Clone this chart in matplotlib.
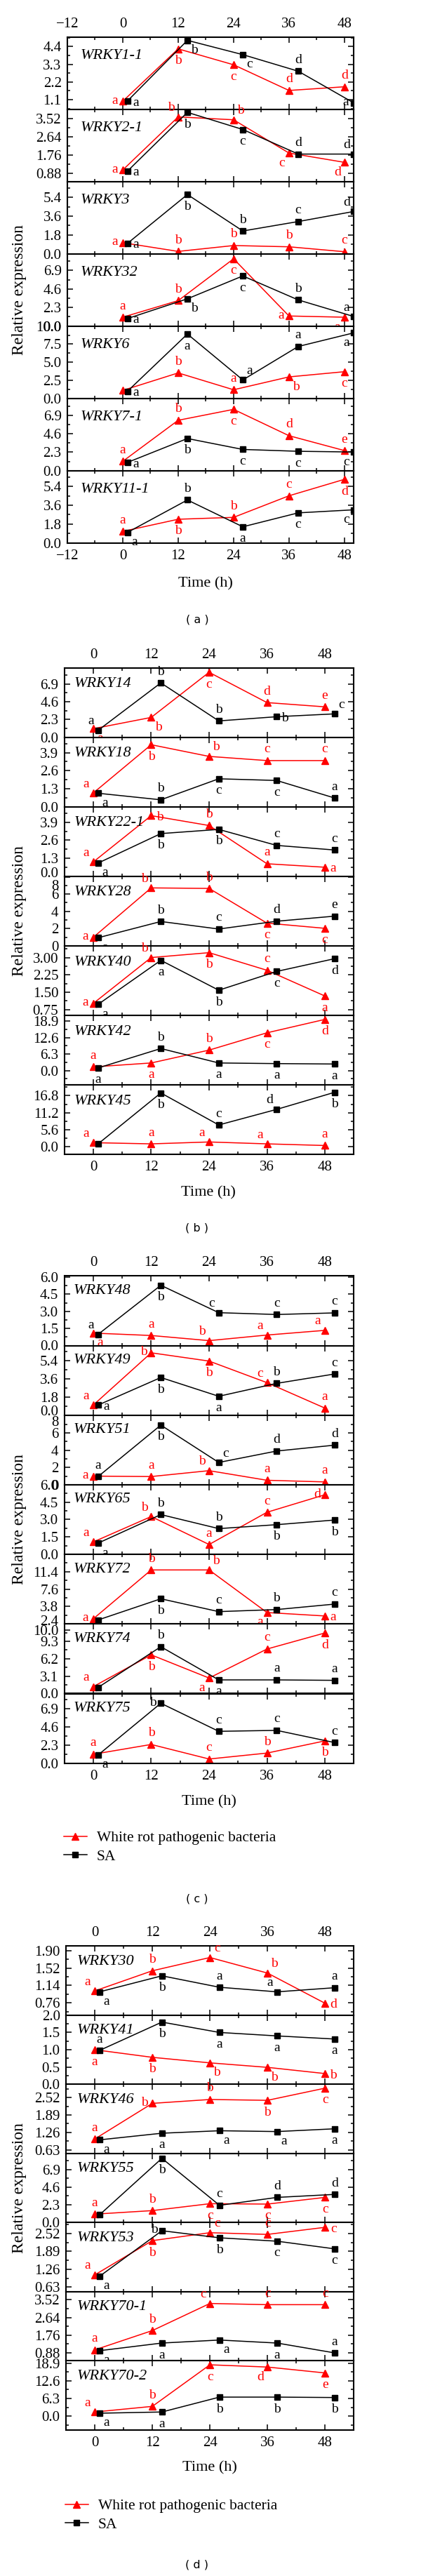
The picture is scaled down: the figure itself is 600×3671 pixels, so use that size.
import matplotlib
matplotlib.use("Agg")
import matplotlib.pyplot as plt
from matplotlib.ticker import FixedLocator, FixedFormatter, MultipleLocator
from matplotlib.transforms import ScaledTranslation

plt.rcParams['font.family'] = ['Liberation Serif', 'DejaVu Serif']

# ---------------- data ----------------
time_wr = [0, 12, 24, 36, 48]
time_sa = [1, 14, 26, 38, 50]
series_names = ["White rot pathogenic bacteria", "SA"]

# panel (a)
a_genes = ["WRKY1-1", "WRKY2-1", "WRKY3", "WRKY32", "WRKY6", "WRKY7-1", "WRKY11-1"]
a_wr = [[1.00, 4.26, 3.27, 1.67, 1.90],
        [1.04, 3.61, 3.47, 1.86, 1.41],
        [1.06, 0.23, 0.79, 0.67, 0.20],
        [1.10, 3.15, 8.33, 1.25, 1.10],
        [1.10, 3.52, 1.19, 2.97, 3.69],
        [1.16, 6.27, 7.63, 4.35, 2.50],
        [1.10, 2.26, 2.44, 4.50, 6.07]]
a_sa = [[1.01, 4.79, 3.90, 2.87, 0.90],
        [0.98, 3.83, 3.00, 1.81, 1.81],
        [0.99, 5.66, 2.18, 3.08, 4.04],
        [0.93, 3.38, 6.21, 3.24, 1.19],
        [0.97, 8.90, 2.55, 7.18, 9.06],
        [1.02, 4.00, 2.64, 2.41, 2.32],
        [1.00, 4.10, 1.54, 2.87, 3.16]]
a_wr_sig = ["abcdd", "abbcd", "abbbc", "abcaa", "ababc", "abcde", "abbcd"]
a_sa_sig = ["abcda", "abcdd", "abbcd", "abcba", "aaaaa", "abccc", "abacc"]
a_yticks = [["1.1", "2.2", "3.3", "4.4"], ["0.88", "1.76", "2.64", "3.52"],
            ["0.0", "1.8", "3.6", "5.4"], ["0.0", "2.3", "4.6", "6.9"],
            ["0.0", "2.5", "5.0", "7.5", "10.0"], ["0.0", "2.3", "4.6", "6.9"],
            ["0.0", "1.8", "3.6", "5.4"]]

# panel (b)
b_genes = ["WRKY14", "WRKY18", "WRKY22-1", "WRKY28", "WRKY40", "WRKY42", "WRKY45"]
b_wr = [[1.12, 2.58, 8.42, 4.50, 3.95],
        [1.00, 4.47, 3.63, 3.33, 3.33],
        [1.04, 4.37, 3.66, 0.91, 0.66],
        [1.00, 6.72, 6.66, 2.64, 2.04],
        [1.02, 3.00, 3.21, 2.45, 1.34],
        [1.40, 2.90, 7.80, 14.4, 19.5],
        [1.39, 1.00, 1.62, 1.00, 0.46]]
b_sa = [[0.91, 7.05, 2.13, 2.67, 3.04],
        [0.98, 0.51, 2.02, 1.90, 0.64],
        [0.96, 3.08, 3.38, 2.23, 1.90],
        [0.95, 2.83, 1.96, 2.86, 3.45],
        [0.98, 2.88, 1.59, 2.40, 2.95],
        [1.00, 8.40, 2.90, 2.66, 2.50],
        [1.00, 17.7, 7.20, 12.3, 17.9]]
b_wr_sig = ["abcde", "abbcc", "abbaa", "abbcc", "abbca", "aabcd", "aaaaa"]
b_sa_sig = ["abbbc", "abcca", "abbcc", "abcde", "aabcd", "abaaa", " bcdb"]
b_yticks = [["0.0", "2.3", "4.6", "6.9"], ["0.0", "1.3", "2.6", "3.9"],
            ["0.0", "1.3", "2.6", "3.9"], ["0", "2", "4", "6", "8"],
            ["0.75", "1.50", "2.25", "3.00"], ["0.0", "6.3", "12.6", "18.9"],
            ["0.0", "5.6", "11.2", "16.8"]]

# panel (c)
c_genes = ["WRKY48", "WRKY49", "WRKY51", "WRKY65", "WRKY72", "WRKY74", "WRKY75"]
c_wr = [[1.09, 0.88, 0.43, 0.92, 1.33],
        [1.00, 6.18, 5.36, 3.22, 0.70],
        [1.00, 0.95, 1.63, 0.52, 0.33],
        [1.07, 3.26, 0.85, 3.63, 5.14],
        [1.13, 11.8, 11.8, 2.50, 1.75],
        [1.24, 6.90, 2.77, 7.94, 10.8],
        [1.13, 2.37, 0.53, 1.28, 2.82]]
c_sa = [[0.98, 5.28, 2.88, 2.72, 2.86],
        [1.00, 3.73, 1.87, 3.15, 4.08],
        [0.95, 6.90, 2.58, 3.90, 4.58],
        [0.97, 3.43, 2.22, 2.56, 2.96],
        [0.88, 5.50, 2.70, 3.15, 4.34],
        [1.10, 8.35, 2.44, 2.44, 2.36],
        [1.04, 7.58, 4.03, 4.15, 2.61]]
c_wr_sig = ["aabaa", "abbca", "aabaa", "abacd", "abbaa", "abacd", "abcbb"]
c_sa_sig = ["abccc", "ababc", "abcdd", "abbbb", "abcbc", "abaaa", "abccc"]
c_yticks = [["0.0", "1.5", "3.0", "4.5", "6.0"], ["0.0", "1.8", "3.6", "5.4"],
            ["0", "2", "4", "6", "8"], ["0.0", "1.5", "3.0", "4.5", "6.0"],
            ["2.4", "3.8", "7.6", "11.4"], ["0.0", "3.1", "6.2", "9.3", "10.0"],
            ["0.0", "2.3", "4.6", "6.9"]]
# tick labels printed at a position different from their text
c_ytick_at = {("WRKY72", "2.4"): 0.0, ("WRKY74", "10.0"): 11.3}

# panel (d)
d_genes = ["WRKY30", "WRKY41", "WRKY46", "WRKY55", "WRKY53", "WRKY70-1", "WRKY70-2"]
d_wr = [[1.02, 1.46, 1.75, 1.41, 0.75],
        [1.00, 0.78, 0.62, 0.49, 0.31],
        [1.02, 2.31, 2.45, 2.42, 2.86],
        [1.09, 1.55, 2.45, 2.40, 3.27],
        [1.06, 2.27, 2.55, 2.49, 2.74],
        [1.03, 1.99, 3.34, 3.28, 3.28],
        [1.50, 3.50, 18.3, 17.5, 15.4]]
d_sa = [[1.00, 1.35, 1.10, 1.00, 1.09],
        [0.98, 1.80, 1.50, 1.40, 1.31],
        [0.99, 1.23, 1.32, 1.29, 1.39],
        [1.00, 8.36, 2.24, 3.27, 3.66],
        [1.01, 2.62, 2.37, 2.25, 1.98],
        [0.99, 1.37, 1.52, 1.37, 0.88],
        [1.07, 1.50, 6.80, 6.80, 6.65]]
d_wr_sig = ["abcbd", "abbbb", "abbbc", "abccc", "abccc", "abccc", "abcde"]
d_sa_sig = ["abaaa", "abaaa", "aaaaa", "abcdd", "abbcc", "aaaaa", "aabbb"]
d_yticks = [["0.76", "1.14", "1.52", "1.90"], ["0.0", "0.5", "1.0", "1.5", "2.0"],
            ["0.63", "1.26", "1.89", "2.52"], ["0.0", "2.3", "4.6", "6.9"],
            ["0.63", "1.26", "1.89", "2.52"], ["0.88", "1.76", "2.64", "3.52"],
            ["0.0", "6.3", "12.6", "18.9"]]

# ---------------- layout / style ----------------
a_ylim = [(0.5, 5.0), (0.48, 3.98), (0, 6.9), (0, 8.95), (0, 10), (0, 9.0), (0, 6.9)]
b_ylim = [(0, 9.0), (0, 5.0), (0, 5.0), (0, 8.05), (0.5, 3.5), (-5.5, 21.0), (-2.5, 20.3)]
c_ylim = [(0, 6.1), (0, 6.9), (0, 8.05), (0, 6.0), (0, 15.2), (0, 12.4), (0, 8.8)]
d_ylim = [(0.49, 2.0), (0, 2.0), (0.5, 3.0), (0, 9.0), (0.47, 2.91), (0.49, 3.93), (-4.85, 19.75)]

# vertical nudges (pixels, + = up) of tick labels that the reference moved off the row edge
label_nudge = {("WRKY22-1", "0.0"): 6, ("WRKY28", "8"): -11,
               ("WRKY49", "0.0"): 7, ("WRKY51", "8"): -8,
               ("WRKY72", "2.4"): 5}

# placement codes for significance letters
a_wr_pos = [['l', 'd', 'd', 'u', 'u'], ['l', 'ul', 'ur', 'dl', 'dl'], ['l', 'u', 'u', 'u', 'u'],
            ['u', 'u', 'd', 'l', 'dl'], ['d', 'u', 'u', 'dr', 'd'], ['u', 'u', 'd', 'u', 'u'],
            ['u', 'd', 'u', 'u', 'd']]
a_sa_pos = [['r', 'dr', 'dr', 'u', 'l'], ['r', 'd', 'd', 'u', 'ul'], ['r', 'd', 'u', 'u', 'ul'],
            ['r', 'dr', 'd', 'u', 'ul'], ['r', 'd', 'ur', 'u', 'dl'], ['r', 'd', 'd', 'd', 'dl'],
            ['dr', 'u', 'd', 'd', 'dl']]
b_wr_pos = [['dr', 'dr', 'd', 'u', 'u'], ['ul', 'd', 'ur', 'u', 'u'], ['ul', 'r', 'u', 'u', 'r'],
            ['l', 'ul', 'u', 'd', 'd'], ['l', 'ul', 'd', 'u', 'd'], ['u', 'd', 'u', 'd', 'd'],
            ['ul', 'u', 'ul', 'ul', 'u']]
b_sa_pos = [['ul', 'u', 'u', 'r', 'ur'], ['dr', 'u', 'd', 'd', 'u'], ['dr', 'd', 'd', 'u', 'u'],
            ['dr', 'u', 'u', 'u', 'u'], ['dr', 'd', 'd', 'd', 'd'], ['d', 'u', 'd', 'd', 'd'],
            ['r', 'd', 'u', 'ul', 'd']]
c_wr_pos = [['dr', 'u', 'ul', 'ul', 'ul'], ['ul', 'l', 'd', 'ul', 'u'], ['l', 'u', 'ul', 'u', 'u'],
            ['ul', 'ul', 'u', 'u', 'l'], ['l', 'u', 'ur', 'dl', 'r'], ['ul', 'd', 'dl', 'u', 'd'],
            ['u', 'u', 'u', 'u', 'd']]
c_sa_pos = [['ul', 'd', 'ul', 'u', 'u'], ['r', 'd', 'd', 'u', 'u'], ['u', 'd', 'ur', 'u', 'u'],
            ['dr', 'u', 'u', 'd', 'd'], ['dr', 'd', 'u', 'u', 'u'], ['dr', 'u', 'd', 'u', 'u'],
            ['dr', 'l', 'u', 'u', 'u']]
d_wr_pos = [['ul', 'u', 'ur', 'ur', 'r'], ['d', 'd', 'dr', 'dr', 'r'], ['u', 'l', 'u', 'd', 'd'],
            ['u', 'u', 'd', 'd', 'd'], ['ul', 'd', 'ur', 'u', 'r'], ['u', 'u', 'ul', 'u', 'u'],
            ['ul', 'u', 'd', 'dl', 'd']]
d_sa_pos = [['dr', 'd', 'u', 'ul', 'u'], ['u', 'd', 'd', 'd', 'd'], ['dr', 'd', 'dr', 'dr', 'd'],
            ['dr', 'd', 'u', 'u', 'u'], ['dr', 'l', 'd', 'd', 'd'], ['dr', 'd', 'dr', 'd', 'u'],
            ['dr', 'd', 'd', 'd', 'd']]

W, H, DPI = 600, 3671, 100
RED = '#ff0000'
OFF_PX = {'u': (0, 16), 'd': (0, -17), 'l': (-11, 1), 'r': (12, -2),
          'ul': (-10, 13), 'ur': (10, 13), 'dl': (-10, -14), 'dr': (10, -14)}
OFF = {k: (v[0] * 0.72, v[1] * 0.72) for k, v in OFF_PX.items()}

fig = plt.figure(figsize=(W / DPI, H / DPI), dpi=DPI)


def fx(px):
    return px / W


def fy(py):
    return 1 - py / H


def draw_panel(top, bottom, left, right, xlim, xticks, genes, wr, sa, wr_sig, sa_sig,
               wr_pos, sa_pos, yticks, ylims, gene_dx, gene_dy, tick_at=None):
    n = len(genes)
    rh = (bottom - top) / n
    handles = None
    for i in range(n):
        y0 = top + i * rh
        ax = fig.add_axes([fx(left), fy(y0 + rh), (right - left) / W, rh / H])
        l1, = ax.plot(time_wr, wr[i], color=RED, marker='^', ms=7.5, lw=1.1,
                      label=series_names[0])
        l2, = ax.plot(time_sa, sa[i], color='black', marker='s', ms=5.5, lw=1.1,
                      label=series_names[1])
        handles = [l1, l2]
        for j, (ch, p) in enumerate(zip(wr_sig[i], wr_pos[i])):
            if ch.strip():
                ax.annotate(ch, (time_wr[j], wr[i][j]), xytext=OFF[p], textcoords='offset points',
                            ha='center', va='center', color=RED, fontsize=14)
        for j, (ch, p) in enumerate(zip(sa_sig[i], sa_pos[i])):
            if ch.strip():
                ax.annotate(ch, (time_sa[j], sa[i][j]), xytext=OFF[p], textcoords='offset points',
                            ha='center', va='center', color='black', fontsize=14)
        ax.set_xlim(*xlim)
        ax.set_ylim(*ylims[i])
        ax.xaxis.set_major_locator(FixedLocator(xticks))
        ax.xaxis.set_minor_locator(MultipleLocator(6))
        pos = []
        for lab in yticks[i]:
            key = (genes[i], lab)
            pos.append(tick_at[key] if tick_at and key in tick_at else float(lab))
        ax.yaxis.set_major_locator(FixedLocator(pos))
        ax.yaxis.set_major_formatter(FixedFormatter(yticks[i]))
        ax.yaxis.set_minor_locator(MultipleLocator((pos[2] - pos[1]) / 2))
        ax.tick_params(which='both', direction='in', top=True, right=True, width=1.1)
        ax.tick_params(which='major', length=6)
        ax.tick_params(which='minor', length=3)
        ax.tick_params(axis='y', labelsize=15, pad=6)
        ax.tick_params(axis='x', labelsize=15, pad=6.5,
                       labeltop=(i == 0), labelbottom=(i == n - 1))
        xt = [f"\u2212{-t}" if t < 0 else str(t) for t in xticks]
        ax.set_xticklabels(xt)
        for s in ax.spines.values():
            s.set_linewidth(1.5)
        ax.text(gene_dx / (right - left), 1 - gene_dy / rh, genes[i], transform=ax.transAxes,
                fontstyle='italic', fontsize=16, ha='left', va='center')
        # nudge selected tick labels as in the reference
        ticks = ax.yaxis.get_major_ticks()
        for t, lab in zip(ticks, yticks[i]):
            dy = label_nudge.get((genes[i], lab))
            if dy:
                t.label1.set_transform(t.label1.get_transform() +
                                       ScaledTranslation(0, dy / DPI, fig.dpi_scale_trans))
    fig.text(fx(28), fy((top + bottom) / 2), "Relative expression", rotation=90,
             ha='center', va='center', fontsize=17)
    return handles


def legend_at(handles, x, y):
    fig.legend(handles=handles, labels=series_names, loc='upper left',
               bbox_to_anchor=(fx(x), fy(y)), frameon=False, fontsize=15.5,
               handlelength=1.55, handletextpad=0.65, labelspacing=0.3,
               borderpad=0, borderaxespad=0, numpoints=1)


draw_panel(52.7, 773.7, 96, 504, (-12, 50), [-12, 0, 12, 24, 36, 48], a_genes, a_wr, a_sa,
           a_wr_sig, a_sa_sig, a_wr_pos, a_sa_pos, a_yticks, a_ylim, 19, 27)
fig.text(fx(293), fy(832), "Time (h)", ha='center', va='center', fontsize=16)
fig.text(fx(281), fy(883), "( a )", ha='center', va='center', fontsize=11.5, family='DejaVu Sans')

draw_panel(951.7, 1645.3, 91.7, 504.3, (-6, 54), [0, 12, 24, 36, 48], b_genes, b_wr, b_sa,
           b_wr_sig, b_sa_sig, b_wr_pos, b_sa_pos, b_yticks, b_ylim, 14, 23)
fig.text(fx(297), fy(1700), "Time (h)", ha='center', va='center', fontsize=16)
fig.text(fx(281), fy(1750), "( b )", ha='center', va='center', fontsize=11.5, family='DejaVu Sans')

hc = draw_panel(1818.3, 2512.7, 91.7, 504.3, (-6, 54), [0, 12, 24, 36, 48], c_genes, c_wr, c_sa,
                c_wr_sig, c_sa_sig, c_wr_pos, c_sa_pos, c_yticks, c_ylim, 13, 21, c_ytick_at)
fig.text(fx(298), fy(2568), "Time (h)", ha='center', va='center', fontsize=16)
legend_at(hc, 90.7, 2609)
fig.text(fx(281), fy(2706), "( c )", ha='center', va='center', fontsize=11.5, family='DejaVu Sans')

hd = draw_panel(2773.3, 3462.7, 94, 504.3, (-6, 54), [0, 12, 24, 36, 48], d_genes, d_wr, d_sa,
                d_wr_sig, d_sa_sig, d_wr_pos, d_sa_pos, d_yticks, d_ylim, 16, 22)
fig.text(fx(299), fy(3517), "Time (h)", ha='center', va='center', fontsize=16)
legend_at(hd, 92.7, 3561)
fig.text(fx(281), fy(3655), "( d )", ha='center', va='center', fontsize=11.5, family='DejaVu Sans')

fig.savefig("out.png", dpi=DPI)
